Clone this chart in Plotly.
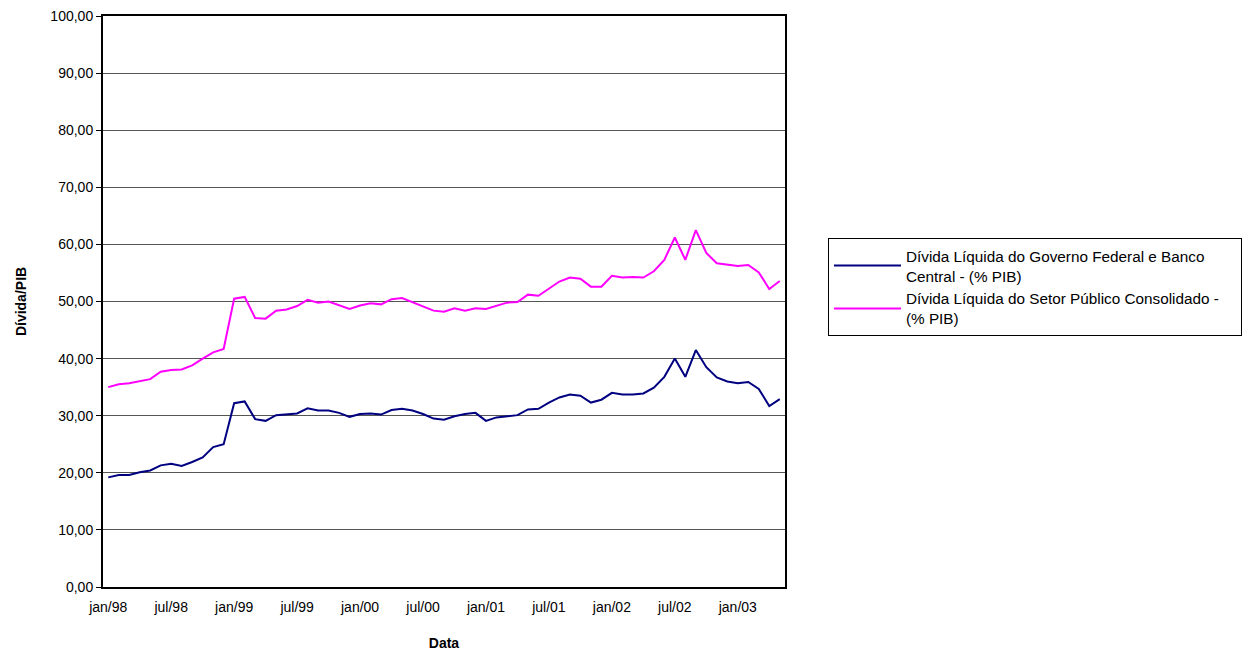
import plotly.graph_objects as go

months_pt = ["jan", "fev", "mar", "abr", "mai", "jun", "jul", "ago", "set", "out", "nov", "dez"]
dates = [f"{months_pt[m]}/{str(y)[2:]}" for y in range(1998, 2004) for m in range(12)][:65]

gov_federal_bc = [
    19.2, 19.6, 19.6, 20.1, 20.4, 21.3, 21.6, 21.2, 21.9, 22.7,
    24.5, 25.0, 32.2, 32.5, 29.4, 29.1, 30.1, 30.2, 30.4, 31.3,
    30.9, 30.9, 30.5, 29.8, 30.3, 30.4, 30.2, 31.0, 31.2, 30.9,
    30.3, 29.5, 29.3, 29.9, 30.3, 30.5, 29.1, 29.7, 29.9, 30.1,
    31.1, 31.2, 32.3, 33.2, 33.7, 33.5, 32.3, 32.8, 34.0, 33.7,
    33.7, 33.9, 34.9, 36.8, 40.0, 36.8, 41.5, 38.5, 36.7, 36.0,
    35.7, 35.9, 34.7, 31.7, 32.9,
]

setor_publico = [
    35.0, 35.5, 35.7, 36.0, 36.4, 37.7, 38.0, 38.1, 38.8, 40.0,
    41.1, 41.7, 50.5, 50.8, 47.1, 47.0, 48.4, 48.6, 49.2, 50.3,
    49.8, 50.0, 49.3, 48.7, 49.3, 49.7, 49.5, 50.4, 50.6, 49.9,
    49.1, 48.4, 48.2, 48.8, 48.4, 48.8, 48.7, 49.3, 49.8, 49.9,
    51.2, 51.0, 52.2, 53.5, 54.2, 54.0, 52.6, 52.6, 54.5, 54.2,
    54.3, 54.2, 55.3, 57.3, 61.2, 57.3, 62.5, 58.5, 56.7, 56.5,
    56.2, 56.4, 55.1, 52.2, 53.6,
]

series_names = [
    "Dívida Líquida do Governo Federal e Banco<br>Central - (% PIB)",
    "Dívida Líquida do Setor Público Consolidado -&nbsp;&nbsp;&nbsp;&nbsp;<br>(% PIB)",
]

y_ticks = list(range(0, 101, 10))
y_tick_text = [f"{v},00" for v in y_ticks]
x_tick_vals = dates[::6]

fig = go.Figure()
fig.add_trace(go.Scatter(x=dates, y=gov_federal_bc, mode="lines", name=series_names[0],
                         line=dict(color="#000080", width=2)))
fig.add_trace(go.Scatter(x=dates, y=setor_publico, mode="lines", name=series_names[1],
                         line=dict(color="#FF00FF", width=2)))

font_family = "Liberation Sans, Arial, sans-serif"

fig.update_layout(
    width=1245, height=643,
    margin=dict(l=95, r=468, t=8, b=64, autoexpand=False),
    paper_bgcolor="white", plot_bgcolor="white",
    font=dict(family=font_family, size=14, color="black"),
    showlegend=True,
    legend=dict(
        x=1.063, y=0.525, xanchor="left", yanchor="middle",
        bordercolor="black", borderwidth=1, bgcolor="white",
        font=dict(family=font_family, size=15.3, color="black"),
        tracegroupgap=4, itemwidth=67,
    ),
    xaxis=dict(
        type="category", categoryorder="array", categoryarray=dates,
        range=[-0.5, len(dates) - 0.5],
        tickmode="array", tickvals=x_tick_vals, ticktext=x_tick_vals,
        showgrid=False, showline=True, linecolor="black", linewidth=2, mirror=True,
        ticks="", ticklabelstandoff=6, automargin=False,
        title=dict(text="<b>Data</b>", font=dict(size=14), standoff=25),
        tickfont=dict(size=14),
    ),
    yaxis=dict(
        range=[0, 100], tickmode="array", tickvals=y_ticks, ticktext=y_tick_text,
        showgrid=True, gridcolor="#555555", gridwidth=1,
        showline=True, linecolor="black", linewidth=2, mirror=True,
        ticks="outside", ticklen=5, tickcolor="black", automargin=False,
        ticklabeloverflow="allow",
        title=dict(text="<b>Dívida/PIB</b>", font=dict(size=14), standoff=20),
        tickfont=dict(size=14), zeroline=False,
    ),
)

fig.write_html("out.html")
